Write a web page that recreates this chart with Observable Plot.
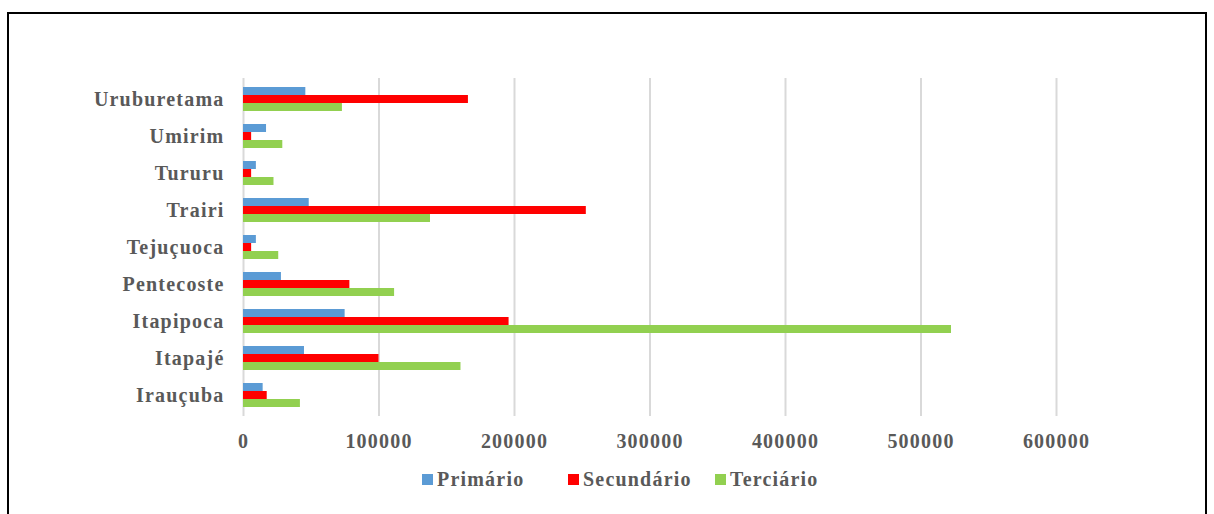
<!DOCTYPE html>
<html>
<head>
<meta charset="utf-8">
<script src="https://cdn.jsdelivr.net/npm/d3@7"></script>
<script src="https://cdn.jsdelivr.net/npm/@observablehq/plot@0.6"></script>
<style>
  html, body { margin: 0; padding: 0; background: #fff; overflow: hidden; width: 1214px; height: 514px; }
  #frame { position: absolute; left: 7px; top: 12px; width: 1196px; height: 600px; border: 2px solid #000; }
  #chart { position: absolute; left: 0; top: 0; }
  #chart svg text { letter-spacing: 1.2px; }
  #legend { position: absolute; left: 0; top: 467px; width: 1214px; height: 24px;
            font-family: "Liberation Serif", "Times New Roman", serif; font-weight: bold; font-size: 20px;
            color: #595959; letter-spacing: 1.2px; }
  .item { position: absolute; top: 0; display: flex; align-items: center; height: 24px; }
  .sw { width: 11px; height: 11px; margin-right: 4px; }
</style>
</head>
<body>
<div id="frame"></div>
<div id="chart"></div>
<div id="legend"></div>
<script>
const municipios = ["Uruburetama", "Umirim", "Tururu", "Trairi", "Tejuçuoca", "Pentecoste", "Itapipoca", "Itapajé", "Irauçuba"];
const primario   = [46000, 17000, 9500, 48500, 9500, 28000, 75000, 45000, 14500];
const secundario = [166000, 6000, 6000, 253000, 6000, 78500, 196000, 100000, 17500];
const terciario  = [73000, 29000, 22500, 138000, 26000, 111500, 522500, 160500, 42000];
const series = ["Primário", "Secundário", "Terciário"];
const colors = ["#5B9BD5", "#FF0000", "#92D050"];
const xTicks = [0, 100000, 200000, 300000, 400000, 500000, 600000];

const rows = (vals) => municipios.map((m, i) => ({municipio: m, valor: vals[i]}));
const dP = rows(primario), dS = rows(secundario), dT = rows(terciario);

const chart = Plot.plot({
  width: 1214,
  height: 460,
  marginLeft: 243,
  marginRight: 158,
  marginTop: 78,
  marginBottom: 44,
  style: {fontFamily: "'Liberation Serif', 'Times New Roman', serif", fontWeight: "bold", fontSize: "20px", color: "#595959", background: "transparent"},
  x: {domain: [0, 600000], ticks: xTicks, tickFormat: d3.format("d"), tickSize: 0, tickPadding: 17, label: null},
  y: {domain: municipios, paddingInner: 0.36, paddingOuter: 0.18, tickSize: 0, tickPadding: 19, label: null},
  marks: [
    Plot.gridX(xTicks, {stroke: "#D9D9D9", strokeWidth: 2, strokeOpacity: 1}),
    Plot.barX(dP, {y: "municipio", x: "valor", fill: colors[0], insetTop: 0, insetBottom: 16}),
    Plot.barX(dS, {y: "municipio", x: "valor", fill: colors[1], insetTop: 8, insetBottom: 8}),
    Plot.barX(dT, {y: "municipio", x: "valor", fill: colors[2], insetTop: 16, insetBottom: 0})
  ]
});
document.getElementById("chart").append(chart);

const legendLeft = [422, 568, 715];
const legend = document.getElementById("legend");
series.forEach((s, i) => {
  const it = document.createElement("div");
  it.className = "item";
  it.style.left = legendLeft[i] + "px";
  const sw = document.createElement("span");
  sw.className = "sw";
  sw.style.background = colors[i];
  const t = document.createElement("span");
  t.textContent = s;
  it.append(sw, t);
  legend.append(it);
});
</script>
</body>
</html>
